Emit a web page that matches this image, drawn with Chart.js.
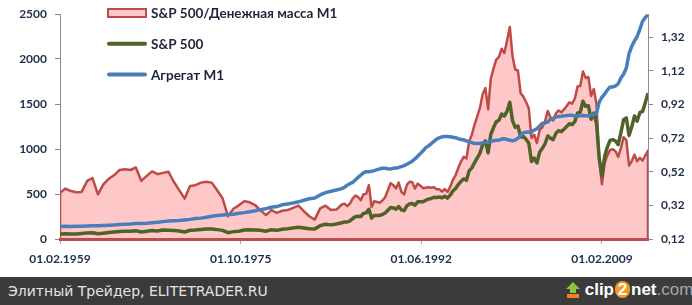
<!DOCTYPE html>
<html>
<head>
<meta charset="utf-8">
<script src="https://cdn.jsdelivr.net/npm/chart.js@4.4.0/dist/chart.umd.min.js"></script>
<style>
  body { margin: 0; background: #fff; }
  #wrap { position: relative; width: 692px; height: 305px; overflow: hidden; }
  #footer { position: absolute; left: 0; top: 277px; width: 692px; height: 28px; background: #3b3b3b; }
  #footer .site { position: absolute; left: 8px; top: 6px; color: #e4e4e4; font: 14px 'DejaVu Sans', sans-serif; }
  #footer .logo { position: absolute; left: 566px; top: 3px; height: 22px; font: bold 17px 'Liberation Sans', Arial, sans-serif; color: #fff; white-space: nowrap; }
  #footer .logo svg { vertical-align: -3px; }
  #footer .two { display: inline-block; width: 15px; height: 17px; line-height: 17px; border-radius: 8px; background: #f39a1d; text-align: center; color: #fff; margin: 0 1px; }
  #footer .com { color: #a8a8a8; font-weight: normal; }
</style>
</head>
<body>
<div id="wrap">
  <canvas id="chart" width="692" height="277"></canvas>
  <div id="footer">
    <span class="site">Элитный Трейдер, ELITETRADER.RU</span>
    <span class="logo"><svg width="14" height="16" viewBox="0 0 14 16"><path d="M7 0 L14 7 L10 7 L10 11 L4 11 L4 7 L0 7 Z" fill="#8cc63f"/><rect x="1" y="12" width="12" height="4" fill="#f0831e"/></svg> clip<span class="two">2</span>net<span class="com">.com</span></span>
  </div>
</div>
<script>
// x positions (month of each reading)
const dates = [
  '1959-02','1959-08','1960-02','1960-08','1961-02','1961-08','1962-02','1962-08','1963-02','1963-08',
  '1964-02','1964-08','1965-02','1965-08','1966-02','1966-08','1967-02','1967-08','1968-02','1968-08',
  '1969-02','1969-08','1970-02','1970-08','1971-02','1971-08','1972-02','1972-08','1973-02','1973-08',
  '1974-02','1974-08','1975-02','1975-08','1976-02','1976-08','1977-02','1977-08','1978-02','1978-08',
  '1979-02','1979-08','1980-02','1980-08','1981-02','1981-08','1982-02','1982-08','1983-02','1983-08',
  '1984-02','1984-08',
  '1985-02','1985-05','1985-08','1985-11','1986-02','1986-05','1986-08','1986-11',
  '1987-02','1987-05','1987-08','1987-11','1988-02','1988-05','1988-08','1988-11',
  '1989-02','1989-05','1989-08','1989-11','1990-02','1990-05','1990-08','1990-11',
  '1991-02','1991-05','1991-08','1991-11','1992-02','1992-05','1992-08','1992-11',
  '1993-02','1993-05','1993-08','1993-11','1994-02','1994-05','1994-08','1994-11',
  '1995-02','1995-05','1995-08','1995-11','1996-02','1996-05','1996-08','1996-11',
  '1997-02','1997-05','1997-08','1997-11','1998-02','1998-05','1998-08','1998-11',
  '1999-02','1999-05','1999-08','1999-11','2000-02','2000-05','2000-08','2000-11',
  '2001-02','2001-05','2001-08','2001-11','2002-02','2002-05','2002-08','2002-11',
  '2003-02','2003-05','2003-08','2003-11','2004-02','2004-05','2004-08','2004-11',
  '2005-02','2005-05','2005-08','2005-11','2006-02','2006-05','2006-08','2006-11',
  '2007-02','2007-05','2007-08','2007-11','2008-02','2008-05','2008-08','2008-11',
  '2009-02','2009-05','2009-08','2009-11','2010-02','2010-05','2010-08','2010-11',
  '2011-02','2011-05','2011-08','2011-11','2012-02','2012-05','2012-08','2012-11',
  '2013-02','2013-05'
];

// S&P 500 / M1 (right axis)
const ratio = [
  0.395, 0.42, 0.405, 0.398, 0.40, 0.465, 0.482, 0.385, 0.445, 0.478,
  0.50, 0.53, 0.535, 0.53, 0.545, 0.465, 0.495, 0.522, 0.505, 0.513,
  0.52, 0.46, 0.41, 0.36, 0.435, 0.44, 0.455, 0.46, 0.455, 0.41,
  0.362, 0.255, 0.30, 0.32, 0.345, 0.338, 0.322, 0.29, 0.262, 0.292,
  0.275, 0.288, 0.292, 0.305, 0.318, 0.285, 0.255, 0.235, 0.302, 0.318,
  0.292, 0.295,
  0.325, 0.33, 0.315, 0.33, 0.36, 0.378, 0.37, 0.35,
  0.386, 0.388, 0.44, 0.31, 0.345, 0.34, 0.335, 0.35,
  0.368, 0.41, 0.452, 0.44, 0.42, 0.455, 0.40, 0.385,
  0.442, 0.46, 0.457, 0.42, 0.449, 0.437, 0.422, 0.425,
  0.428, 0.425, 0.428, 0.416, 0.415, 0.402, 0.417, 0.40,
  0.43, 0.472, 0.50, 0.543, 0.58, 0.608, 0.598, 0.70,
  0.74, 0.80, 0.85, 0.90, 0.982, 1.017, 0.89, 1.073,
  1.134, 1.186, 1.202, 1.251, 1.225, 1.30, 1.38, 1.206,
  1.127, 1.121, 0.986, 0.966, 0.934, 0.897, 0.72, 0.74,
  0.69, 0.768, 0.784, 0.82, 0.881, 0.843, 0.824, 0.866,
  0.884, 0.873, 0.89, 0.91, 0.932, 0.924, 0.955, 1.026,
  1.029, 1.116, 1.076, 1.083, 0.97, 1.011, 0.92, 0.59,
  0.445, 0.571, 0.617, 0.649, 0.653, 0.641, 0.608, 0.66,
  0.725, 0.708, 0.556, 0.583, 0.621, 0.582, 0.603, 0.585,
  0.616, 0.645
];

// S&P 500 index (left axis)
const sp500 = [
  55, 59, 56, 56, 62, 68, 70, 58, 65, 72,
  78, 82, 87, 87, 91, 77, 87, 94, 89, 99,
  98, 95, 89, 78, 97, 99, 106, 111, 112, 104,
  96, 70, 82, 87, 100, 103, 100, 97, 87, 103,
  96, 109, 114, 122, 131, 123, 113, 110, 148, 164,
  157, 167,
  181, 190, 189, 202, 227, 247, 253, 249,
  284, 290, 330, 232, 262, 262, 262, 274,
  289, 320, 351, 346, 332, 361, 323, 315,
  367, 390, 395, 375, 413, 415, 414, 431,
  443, 450, 464, 462, 467, 457, 475, 454,
  487, 533, 562, 605, 640, 669, 652, 757,
  791, 848, 900, 955, 1049, 1091, 957, 1164,
  1238, 1302, 1320, 1389, 1366, 1421, 1518, 1315,
  1240, 1256, 1134, 1140, 1107, 1067, 860, 900,
  845, 964, 1008, 1058, 1145, 1121, 1104, 1174,
  1204, 1192, 1220, 1249, 1281, 1270, 1304, 1401,
  1407, 1531, 1474, 1481, 1331, 1400, 1283, 896,
  700, 919, 1021, 1096, 1104, 1089, 1049, 1181,
  1327, 1345, 1150, 1247, 1366, 1310, 1406, 1416,
  1515, 1620
];

// M1 money supply (left axis)
const m1 = [
  139, 141, 140, 141, 142, 144, 146, 147, 150, 153,
  156, 160, 163, 166, 171, 172, 174, 180, 186, 193,
  199, 202, 205, 211, 218, 227, 232, 242, 253, 260,
  266, 272, 276, 287, 293, 302, 313, 326, 337, 352,
  360, 380, 390, 400, 413, 430, 447, 455, 490, 515,
  530, 545,
  560, 575, 598, 615, 628, 655, 685, 710,
  735, 748, 748, 752, 760, 770, 780, 785,
  785, 780, 778, 785, 790, 795, 805, 815,
  830, 848, 865, 890, 920, 950, 980, 1015,
  1035, 1060, 1085, 1110, 1125, 1135, 1140, 1138,
  1135, 1130, 1125, 1115, 1105, 1100, 1090, 1080,
  1070, 1062, 1060, 1062, 1068, 1072, 1075, 1085,
  1092, 1098, 1098, 1110, 1115, 1105, 1098, 1090,
  1100, 1120, 1150, 1180, 1185, 1190, 1190, 1210,
  1225, 1255, 1285, 1290, 1300, 1330, 1340, 1355,
  1362, 1365, 1370, 1372, 1375, 1375, 1365, 1365,
  1368, 1372, 1370, 1368, 1372, 1385, 1395, 1520,
  1575, 1610, 1655, 1690, 1690, 1700, 1725, 1790,
  1830, 1900, 2060, 2140, 2200, 2250, 2330, 2420,
  2460, 2490
];

const seriesNames = ['S&P 500/Денежная масса M1', 'S&P 500', 'Агрегат M1'];
const xTickDates = ['1959-02', '1975-10', '1992-06', '2009-02'];
const xTickLabels = ['01.02.1959', '01.10.1975', '01.06.1992', '01.02.2009'];
const leftTicks = [0, 500, 1000, 1500, 2000, 2500];
const rightTicks = [0.12, 0.32, 0.52, 0.72, 0.92, 1.12, 1.32];
const rightMax = 1.457;

function toYear(s) {
  return +s.slice(0, 4) + (+s.slice(5, 7) - 1) / 12;
}

const xs = dates.map(toYear);
const ratioMin = rightTicks[0];
// area closed down to the axis at both ends, like the Excel area border
const ratioPoints = [{ x: xs[0], y: ratioMin }]
  .concat(ratio.map((v, i) => ({ x: xs[i], y: v })))
  .concat([{ x: xs[xs.length - 1], y: ratioMin }]);

const labelColor = '#1f2d4a';
const axisGrey = '#8c8c8c';

const legendPlugin = {
  id: 'insideLegend',
  afterDatasetsDraw(chart) {
    const ctx = chart.ctx;
    const x0 = 108, w = 38, top = 13, gap = 30.7;
    ctx.save();
    chart.data.datasets.forEach((ds, i) => {
      const y = top + i * gap;
      if (ds.fill) {
        ctx.fillStyle = ds.backgroundColor;
        ctx.strokeStyle = ds.borderColor;
        ctx.lineWidth = 2;
        ctx.fillRect(x0, y - 4, w, 8);
        ctx.strokeRect(x0, y - 4, w, 8);
      } else {
        ctx.strokeStyle = ds.borderColor;
        ctx.lineWidth = 4;
        ctx.lineCap = 'round';
        ctx.beginPath();
        ctx.moveTo(x0 + 1, y);
        ctx.lineTo(x0 + w - 1, y);
        ctx.stroke();
      }
      ctx.fillStyle = '#1d2433';
      ctx.font = 'bold 13.5px Lato, sans-serif';
      ctx.textBaseline = 'middle';
      ctx.fillText(ds.label, x0 + w + 5, y + 1);
    });
    ctx.restore();
  }
};

Chart.defaults.font.family = "Lato, 'Open Sans', sans-serif";
Chart.defaults.font.weight = 'bold';
Chart.defaults.font.size = 12;
Chart.defaults.color = labelColor;

new Chart(document.getElementById('chart'), {
  type: 'line',
  data: {
    datasets: [
      {
        label: seriesNames[0],
        data: ratioPoints,
        yAxisID: 'y1',
        borderColor: '#bd4b48',
        backgroundColor: '#ffc8c8',
        borderWidth: 2.5,
        fill: 'start',
        order: 3
      },
      {
        label: seriesNames[1],
        data: sp500.map((v, i) => ({ x: xs[i], y: v })),
        yAxisID: 'y',
        borderColor: '#4f6228',
        borderWidth: 3.5,
        fill: false,
        order: 2
      },
      {
        label: seriesNames[2],
        data: m1.map((v, i) => ({ x: xs[i], y: v })),
        yAxisID: 'y',
        borderColor: '#4a7ebb',
        borderWidth: 3.5,
        fill: false,
        order: 1
      }
    ]
  },
  options: {
    responsive: false,
    animation: false,
    devicePixelRatio: 1,
    layout: { padding: { top: 6, left: 0, right: 0, bottom: 0 } },
    elements: { point: { radius: 0 }, line: { tension: 0, borderJoinStyle: 'round' } },
    plugins: { legend: { display: false }, tooltip: { enabled: false } },
    scales: {
      x: {
        type: 'linear',
        min: toYear('1959-02'),
        max: toYear('2013-05'),
        afterBuildTicks: (s) => { s.ticks = xTickDates.map((d) => ({ value: toYear(d) })); },
        afterFit: (s) => { s.height = 38; },
        ticks: {
          autoSkip: false,
          maxRotation: 0,
          padding: 8,
          callback: (v, i) => xTickLabels[i]
        },
        grid: { drawOnChartArea: false, tickLength: 5, color: '#a6a6a6' },
        border: { color: '#b5504d', width: 3, z: 1 }
      },
      y: {
        position: 'left',
        min: 0,
        max: leftTicks[leftTicks.length - 1],
        afterBuildTicks: (s) => { s.ticks = leftTicks.map((v) => ({ value: v })); },
        afterFit: (s) => { s.width = 60; },
        ticks: { padding: 8, font: { lineHeight: 1 }, callback: (v) => String(v) },
        grid: { drawOnChartArea: false, tickLength: 5, color: axisGrey },
        border: { color: axisGrey, width: 1 }
      },
      y1: {
        position: 'right',
        min: ratioMin,
        max: rightMax,
        afterBuildTicks: (s) => { s.ticks = rightTicks.map((v) => ({ value: v })); },
        afterFit: (s) => { s.width = 44; },
        ticks: {
          padding: 8,
          font: { lineHeight: 1 },
          callback: (v) => v.toFixed(2).replace('.', ',')
        },
        grid: { drawOnChartArea: false, tickLength: 5, color: axisGrey },
        border: { color: axisGrey, width: 1 }
      }
    }
  },
  plugins: [legendPlugin]
});
</script>
</body>
</html>
